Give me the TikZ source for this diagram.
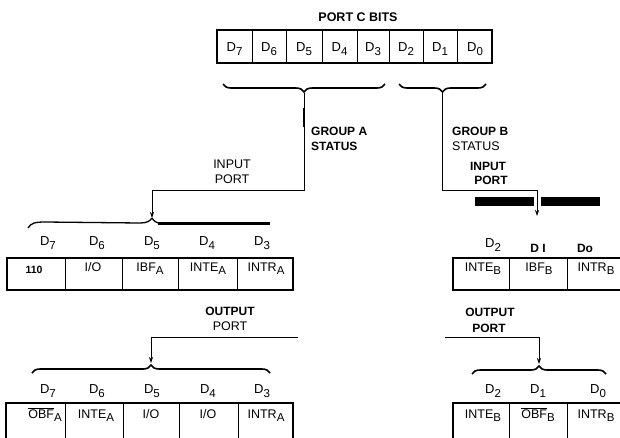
\documentclass[tikz,border=0pt]{standalone}
\usepackage{fontspec}
\setmainfont{Liberation Sans}
\usetikzlibrary{arrows.meta,decorations.pathreplacing}
\newcommand{\sbx}[1]{\raisebox{-0.6ex}{\fontsize{11.5}{11.5}\selectfont #1}}
\newcommand{\ovl}[1]{$\overline{\hbox{#1}}$}
\begin{document}
\begin{tikzpicture}[x=1pt,y=-1pt,
  dl/.style={anchor=base,inner sep=0pt,font=\fontsize{13}{13}\selectfont},
  ct/.style={anchor=base,inner sep=0pt,font=\fontsize{12.5}{13}\selectfont},
  bl/.style={anchor=base,inner sep=0pt,font=\bfseries\fontsize{12}{13}\selectfont},
  rg/.style={anchor=base,inner sep=0pt,font=\fontsize{12.5}{13}\selectfont},
  outer/.style={line width=1.6pt},
  inner/.style={line width=0.6pt},
  conn/.style={line width=0.8pt},
  arr/.style={conn,-{Stealth[length=6pt,width=4pt]}},
  brc/.style={line width=1.6pt,decorate,decoration={brace,amplitude=8pt}}]
\useasboundingbox (0,0) rectangle (620,437);

% ---------- top register ----------
\node[bl,font=\bfseries\fontsize{12.5}{13}\selectfont] (title) at (358,21) {PORT C BITS};
\draw[outer] (217,30) rectangle (492,63);
\foreach \x in {252,286,322,357,389,423,457} \draw[inner] (\x,30) -- (\x,63);
\node[dl] (t7) at (234.5,51) {D\sbx{7}};
\node[dl] (t6) at (269,51) {D\sbx{6}};
\node[dl] (t5) at (304,51) {D\sbx{5}};
\node[dl] (t4) at (339.5,51) {D\sbx{4}};
\node[dl] (t3) at (373,51) {D\sbx{3}};
\node[dl] (t2) at (406,51) {D\sbx{2}};
\node[dl] (t1) at (440,51) {D\sbx{1}};
\node[dl] (t0) at (475,51) {D\sbx{0}};

% ---------- top braces ----------
\draw[brc] (385,84) -- (223,84);
\draw[brc] (486,84) -- (399,84);
\coordinate (gA) at (304,93);
\coordinate (gB) at (442.5,93);

\node[bl,anchor=base west] (gat) at (311,135) {GROUP A};
\node[bl,anchor=base west] (gas) at (311,150) {STATUS};
\node[bl,anchor=base west] (gbt) at (452,135) {GROUP B};
\node[rg,anchor=base west] (gbs) at (452,150) {STATUS};

% ---------- group A input connector ----------
\node[rg] (inA1) at (232,168) {INPUT};
\node[rg] (inA2) at (232,183) {PORT};
\coordinate (cA) at (152,190);
\coordinate (tipA) at (152,218);
\draw[arr] (gA) |- (cA) -- (tipA);
\draw[line width=2.6pt] (304,108) -- (304,127);

% lopsided brace over group A input row
\draw[line width=1.3pt] (28,228) .. controls (31,223) and (35,222) .. (45,222)
  -- (140,223) .. controls (147,223) and (150,221) .. (tipA);
\draw[line width=1.3pt] (tipA) .. controls (154,221) and (156,223) .. (160,223);
\draw[line width=3.2pt] (158,223.5) -- (270,223.5);

% ---------- group B input connector ----------
\node[bl] (inB1) at (488,170) {INPUT};
\node[bl] (inB2) at (491,184) {PORT};
\coordinate (cB) at (537,190);
\coordinate (tipB) at (537,216);
\draw[arr] (gB) |- (cB) -- (tipB);
\draw[line width=9pt] (475,201) -- (534,201);
\draw[line width=9pt] (541,201) -- (600,201);

% ---------- group A input row ----------
\node[dl] (a7) at (48,245) {D\sbx{7}};
\node[dl] (a6) at (97,245) {D\sbx{6}};
\node[dl] (a5) at (152,245) {D\sbx{5}};
\node[dl] (a4) at (207,245) {D\sbx{4}};
\node[dl] (a3) at (262,245) {D\sbx{3}};
\draw[outer] (7,258) rectangle (293,290);
\foreach \x in {65,122,178,237} \draw[inner] (\x,258) -- (\x,290);
\node[bl,font=\bfseries\fontsize{10.5}{11}\selectfont] (ac7) at (34,273) {110};
\node[ct] (ac6) at (93,271) {I/O};
\node[ct] (ac5) at (150,271) {IBF\sbx{A}};
\node[ct] (ac4) at (208,271) {INTE\sbx{A}};
\node[ct] (ac3) at (266,271) {INTR\sbx{A}};

% ---------- group B input row ----------
\node[dl] (b2) at (493,247) {D\sbx{2}};
\node[bl] (b1) at (538,252) {D I};
\node[bl] (b0) at (585,252) {Do};
\draw[outer] (621,258) -- (453,258) -- (453,290) -- (621,290);
\foreach \x in {509,567} \draw[inner] (\x,258) -- (\x,290);
\node[ct] (bc2) at (483,271) {INTE\sbx{B}};
\node[ct] (bc1) at (539,271) {IBF\sbx{B}};
\node[ct] (bc0) at (596,271) {INTR\sbx{B}};

% ---------- group A output ----------
\node[bl] (outA1) at (230,315) {OUTPUT};
\node[rg] (outA2) at (230,330) {PORT};
\coordinate (oAs) at (298,337);
\coordinate (oAc) at (151,337);
\coordinate (oAt) at (151,363);
\draw[arr] (oAs) -- (oAc) -- (oAt);
\draw[brc] (32,373) -- (270,373);

\node[dl] (o7) at (48,393) {D\sbx{7}};
\node[dl] (o6) at (97,393) {D\sbx{6}};
\node[dl] (o5) at (152,393) {D\sbx{5}};
\node[dl] (o4) at (208,393) {D\sbx{4}};
\node[dl] (o3) at (262,393) {D\sbx{3}};
\draw[outer] (6,440) -- (6,403) -- (293,403) -- (293,440);
\foreach \x in {65,123,179,238} \draw[inner] (\x,403) -- (\x,440);
\node[ct] (oc7) at (45,418) {\ovl{OBF}\sbx{A}};
\node[ct] (oc6) at (96,418) {INTE\sbx{A}};
\node[ct] (oc5) at (151,418) {I/O};
\node[ct] (oc4) at (208,418) {I/O};
\node[ct] (oc3) at (266,418) {INTR\sbx{A}};

% ---------- group B output ----------
\node[bl] (outB1) at (490,316) {OUTPUT};
\node[bl] (outB2) at (489,332) {PORT};
\coordinate (oBs) at (445,337);
\coordinate (oBc) at (539,337);
\coordinate (oBt) at (539,364);
\draw[arr] (oBs) -- (oBc) -- (oBt);
\draw[brc] (472,374) -- (606,374);

\node[dl] (p2) at (493,393) {D\sbx{2}};
\node[dl] (p1) at (538,393) {D\sbx{1}};
\node[dl] (p0) at (598,393) {D\sbx{0}};
\draw[outer] (453,440) -- (453,403) -- (621,403);
\foreach \x in {509,567} \draw[inner] (\x,403) -- (\x,440);
\node[ct] (pc2) at (483,418) {INTE\sbx{B}};
\node[ct] (pc1) at (538,418) {\ovl{OBF}\sbx{B}};
\node[ct] (pc0) at (596,418) {INTR\sbx{B}};
\end{tikzpicture}
\end{document}
